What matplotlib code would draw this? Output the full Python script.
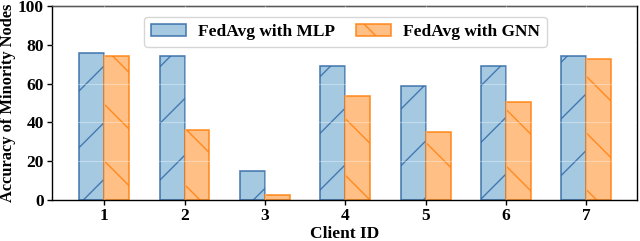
import numpy as np
import matplotlib.pyplot as plt

# render at higher dpi so the hatch pattern comes out sparser, scale points down
DPI = 170
s = 100.0 / DPI

plt.rcParams['font.family'] = 'Liberation Serif'
plt.rcParams['font.weight'] = 'bold'
plt.rcParams['hatch.linewidth'] = 1.0 * s
plt.rcParams['axes.linewidth'] = 1.0 * s
plt.rcParams['xtick.major.width'] = 1.0 * s
plt.rcParams['ytick.major.width'] = 1.0 * s
plt.rcParams['xtick.major.size'] = 3.5 * s
plt.rcParams['ytick.major.size'] = 3.5 * s
plt.rcParams['xtick.major.pad'] = 2.5 * s
plt.rcParams['ytick.major.pad'] = 2.5 * s

clients = [1, 2, 3, 4, 5, 6, 7]
mlp_acc = [76.0, 74.0, 15.0, 69.0, 59.0, 69.0, 74.3]
gnn_acc = [74.0, 36.0, 2.7, 53.5, 35.0, 50.7, 72.5]

x = np.array(clients)
width = 0.31

fig, ax = plt.subplots(figsize=(640 / DPI, 241 / DPI), dpi=DPI)
ax.bar(x - width, mlp_acc, width, align='edge', color=(0.12, 0.47, 0.71, 0.4),
       edgecolor=(0.20, 0.42, 0.66, 0.85), hatch='/', linewidth=1.2 * s,
       label='FedAvg with MLP', zorder=1)
ax.bar(x, gnn_acc, width, align='edge', color=(1.0, 0.5, 0.05, 0.5),
       edgecolor=(1.0, 0.5, 0.05, 0.85), hatch='\\', linewidth=1.2 * s,
       label='FedAvg with GNN', zorder=1)

ax.grid(color='white', alpha=0.35, linewidth=0.8 * s, zorder=3)
ax.set_axisbelow(False)

ax.set_xlim(0.35, 7.63)
ax.set_ylim(0, 100)
ax.set_xticks(x)
ax.set_yticks([0, 20, 40, 60, 80, 100])
ax.tick_params(labelsize=12.5 * s)
ax.set_xlabel('Client ID', fontsize=12.5 * s, fontweight='bold', labelpad=1 * s)
ax.set_ylabel('Accuracy of Minority Nodes', fontsize=11.8 * s, fontweight='bold',
              labelpad=1.5 * s)
leg = ax.legend(loc='upper center', ncol=2, frameon=True,
                bbox_to_anchor=(0.502, 0.99), columnspacing=1.2, handlelength=2.0,
                handletextpad=0.7, prop={'weight': 'bold', 'size': 12.5 * s})
leg.get_frame().set_linewidth(1.0 * s)

plt.subplots_adjust(left=52 / 640, right=637 / 640, top=1 - 6 / 241, bottom=1 - 200 / 241)
plt.savefig('out.png', dpi=DPI)
